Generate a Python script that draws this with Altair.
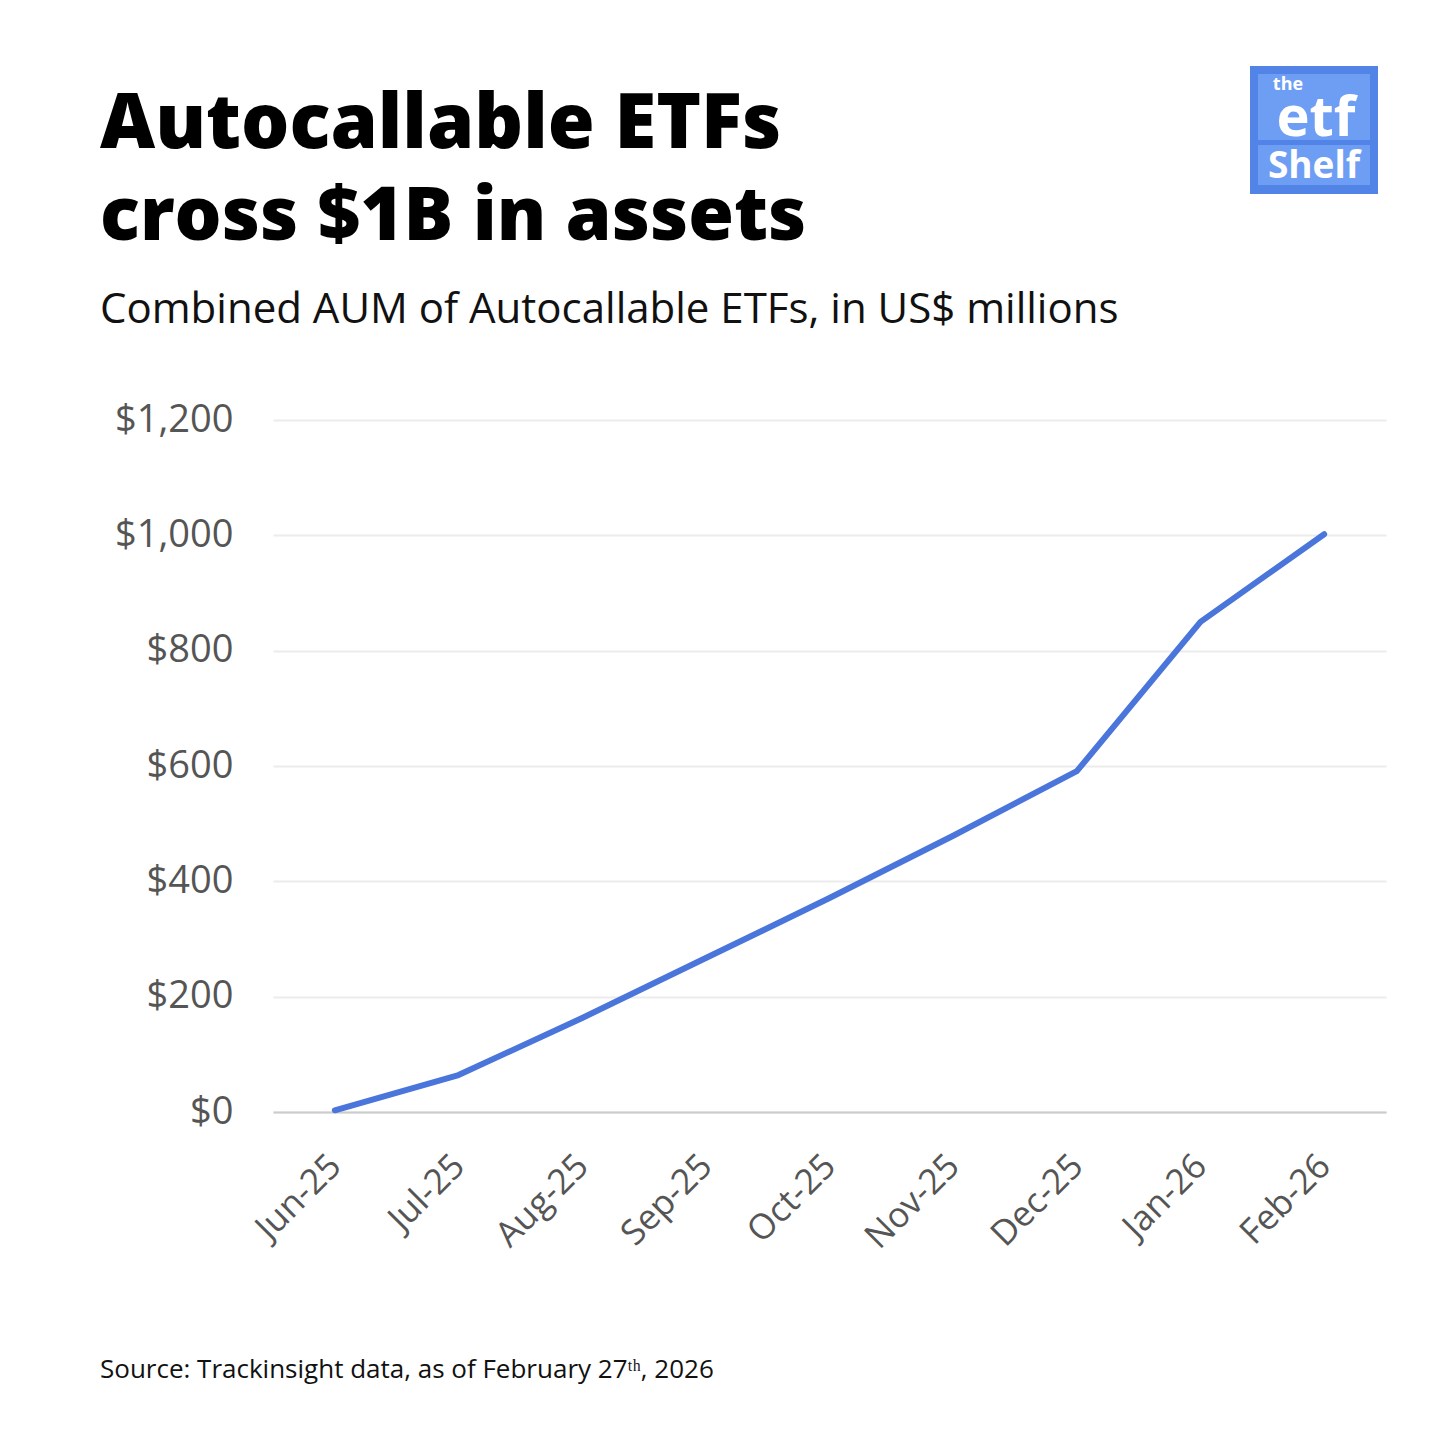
import altair as alt
import pandas as pd

months = ["Jun-25", "Jul-25", "Aug-25", "Sep-25", "Oct-25", "Nov-25", "Dec-25", "Jan-26", "Feb-26"]
aum = [3, 64, 163, 267, 371, 479, 591, 850, 1002]
y_ticks = [0, 200, 400, 600, 800, 1000, 1200]

title_lines = ["Autocallable ETFs", "cross $1B in assets"]
subtitle = "Combined AUM of Autocallable ETFs, in US$ millions"
source = "Source: Trackinsight data, as of February 27ᵗʰ, 2026"

FONT = "Open Sans"
df = pd.DataFrame({"month": months, "aum": aum})
one = pd.DataFrame({"a": [0]})

base = alt.Chart(df)

line = base.mark_line(color="#4a76db", strokeWidth=6, strokeCap="round", strokeJoin="round").encode(
    x=alt.X("month:O", sort=months, scale=alt.Scale(type="point", padding=0.5),
            axis=alt.Axis(title=None, labelAngle=-45, labelAlign="right", labelBaseline="middle",
                          labelFontSize=35, labelColor="#555555", labelFont=FONT,
                          labelPadding=48, ticks=False, domain=True, domainColor="#cccccc",
                          domainWidth=2, grid=False)),
    y=alt.Y("aum:Q", scale=alt.Scale(domain=[0, 1200], nice=False),
            axis=alt.Axis(title=None, values=y_ticks, format="$,.0f", labelFontSize=38,
                          labelColor="#555555", labelFont=FONT, labelPadding=40,
                          ticks=False, domain=False, grid=True, gridColor="#ececec",
                          gridWidth=2)),
)

def txt(t, x, y, size, weight="normal", color="#000000", align="left", font=FONT):
    return alt.Chart(one).mark_text(text=t, align=align, baseline="alphabetic", fontSize=size,
                                    fontWeight=weight, color=color, font=font).encode(
        x=alt.value(x), y=alt.value(y))

t1 = txt(title_lines[0], -173, -272, 76, weight=800)
t2 = txt(title_lines[1], -173, -180, 74, weight=800)
sub = txt(subtitle, -173, -97, 42, color="#111111")
src = txt(source, -173, 958, 26, color="#111111")

# logo
logo_outer = alt.Chart(one).mark_rect(color="#5283e6").encode(
    x=alt.value(977), x2=alt.value(1105), y=alt.value(-354), y2=alt.value(-226))
logo_top = alt.Chart(one).mark_rect(color="#6e9df4").encode(
    x=alt.value(985), x2=alt.value(1097), y=alt.value(-346), y2=alt.value(-280))
logo_bot = alt.Chart(one).mark_rect(color="#6e9df4").encode(
    x=alt.value(985), x2=alt.value(1097), y=alt.value(-275), y2=alt.value(-235))
l1 = txt("the", 1015, -330, 18, weight="bold", color="#ffffff", align="center")
l2 = txt("etf", 1043, -284, 56, weight="bold", color="#ffffff", align="center")
l3 = txt("Shelf", 1041, -242, 37, weight="bold", color="#ffffff", align="center")

chart = alt.layer(line, t1, t2, sub, src, logo_outer, logo_top, logo_bot, l1, l2, l3).properties(
    width=1113, height=692,
    autosize=alt.AutoSizeParams(type="none"),
    padding={"left": 265, "top": 412, "right": 62, "bottom": 336},
    background="#ffffff",
).configure_view(stroke=None)

chart.save("out.html", embed_options={"renderer": "svg", "actions": False})
